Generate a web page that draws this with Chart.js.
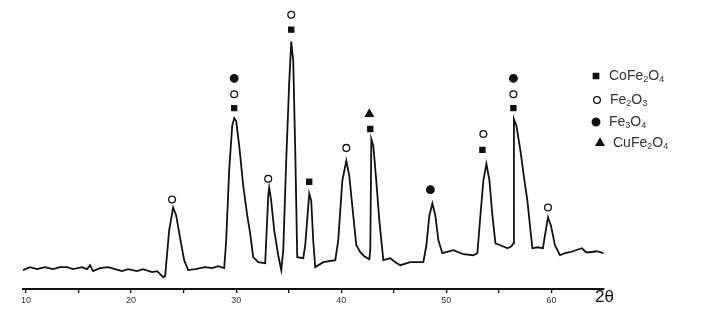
<!DOCTYPE html>
<html>
<head>
<meta charset="utf-8">
<script src="https://cdn.jsdelivr.net/npm/chart.js@4.4.1/dist/chart.umd.min.js"></script>
<style>
  html, body { margin: 0; padding: 0; background: #fff; }
  #wrap { position: relative; width: 708px; height: 320px; }
</style>
</head>
<body>
<div id="wrap"><canvas id="xrd" width="708" height="320"></canvas></div>
<script>
// XRD pattern — 2θ (deg) vs intensity (a.u.), phases marked above the peaks
const TWO_THETA = [9.71, 10.38, 11.05, 11.81, 12.57, 13.24, 13.90, 14.48, 15.33, 15.81, 16.10, 16.38, 17.05, 17.81, 18.48, 19.14, 19.71, 20.57, 21.14, 22.00, 22.48, 23.05, 23.24,
  23.62, 24.00, 24.29, 24.67, 25.05, 25.43, 26.10, 27.05, 27.71, 28.29, 28.86,
  29.05, 29.33, 29.62, 29.81, 30.00, 30.29, 30.67, 31.05, 31.33, 31.62, 32.10, 32.76,
  32.86, 33.05, 33.14, 33.33, 33.62, 34.00, 34.29, 34.48, 34.76, 35.05, 35.24, 35.43, 35.62, 35.81,
  36.38, 36.57, 36.95, 37.14, 37.33, 37.52, 38.29, 39.43, 39.71, 40.10, 40.48, 40.76, 41.14, 41.43,
  41.81, 42.19, 42.67, 42.76, 42.86, 43.05, 43.33, 43.62, 44.00, 44.67, 45.14, 45.62, 46.57, 47.33,
  47.81, 48.10, 48.38, 48.67, 48.95, 49.24, 49.62, 50.67, 51.62, 52.57, 52.95, 53.24, 53.52, 53.81,
  54.10, 54.38, 54.67, 55.14, 55.81, 56.19, 56.38, 56.43, 56.67, 57.05, 57.43, 57.71, 58.00, 58.19,
  58.67, 59.19, 59.38, 59.67, 59.95, 60.33, 60.81, 61.29, 61.76, 62.33, 62.90, 63.29, 63.71, 64.29, 64.95];
const INTENSITY = [19, 22, 20, 22, 20, 22, 22, 20, 22, 20, 24, 18, 21, 22, 20, 18, 20, 18, 20, 17, 18, 12, 13,
  59, 82, 74, 51, 29, 19, 20, 22, 21, 23, 21,
  49, 119, 164, 172, 169, 144, 104, 74, 56, 32, 27, 26,
  49, 94, 102, 89, 59, 34, 19, 39, 129, 209, 249, 229, 139, 32,
  31, 44, 96, 89, 49, 22, 27, 29, 49, 109, 129, 114, 74, 44,
  37, 33, 30, 39, 151, 144, 109, 69, 29, 31, 27, 24, 27, 27,
  27, 44, 74, 86, 74, 49, 36, 39, 35, 34, 36, 74, 109, 126,
  109, 74, 46, 44, 41, 43, 46, 171, 164, 139, 109, 89, 59, 41,
  42, 41, 54, 72, 64, 44, 34, 36, 37, 39, 41, 37, 37, 38, 36];

// phase markers: [2θ, height]
const COFE2O4 = [[29.81, 182], [35.24, 261], [36.95, 108], [42.76, 161], [53.43, 140], [56.38, 182]];
const FE2O3 = [[23.90, 90], [29.81, 196], [33.05, 111], [35.24, 276], [40.48, 142], [53.52, 156], [56.38, 196], [59.67, 82]];
const FE3O4 = [[29.81, 212], [48.48, 100], [56.38, 212]];
const CUFE2O4 = [[42.67, 176]];

const X_TICKS = [10, 15, 20, 25, 30, 35, 40, 45, 50, 55, 60];
const X_LABELS = [10, 20, 30, 40, 50, 60];

const LEGEND = [
  { parts: [["CoFe", 0], ["2", 1], ["O", 0], ["4", 1]], style: "rect", fill: true, r: 3.8, y: 76, x: 596 },
  { parts: [["Fe", 0], ["2", 1], ["O", 0], ["3", 1]], style: "circle", fill: false, r: 3.4, y: 100, x: 597 },
  { parts: [["Fe", 0], ["3", 1], ["O", 0], ["4", 1]], style: "circle", fill: true, r: 3.8, y: 122, x: 596 },
  { parts: [["CuFe", 0], ["2", 1], ["O", 0], ["4", 1]], style: "triangle", fill: true, r: 4.5, y: 143, x: 600 },
];

const pts = (arr) => arr.map(([x, y]) => ({ x, y }));
const marker = (label, data, style, fill, r) => ({
  type: "scatter", label, data: pts(data), pointStyle: style, pointRadius: r, pointHoverRadius: r,
  pointBackgroundColor: fill ? "#111" : "#fff", pointBorderColor: "#111", pointBorderWidth: 1.3, showLine: false,
});

const extras = {
  id: "extras",
  afterDraw(chart) {
    const ctx = chart.ctx;
    ctx.save();
    ctx.textBaseline = "middle";
    for (const it of LEGEND) {
      ctx.fillStyle = it.fill ? "#111" : "#fff";
      ctx.strokeStyle = "#111";
      ctx.lineWidth = 1.3;
      Chart.helpers.drawPoint(ctx, { pointStyle: it.style, radius: it.r, borderWidth: 1.3 }, it.x, it.y);
      ctx.fillStyle = "#333";
      let x = it.x + 13;
      for (const [t, sub] of it.parts) {
        ctx.font = sub ? "9px 'Liberation Sans'" : "14px 'Liberation Sans'";
        ctx.fillText(t, x, it.y + (sub ? 4 : 0));
        x += ctx.measureText(t).width;
      }
    }
    ctx.font = "17px 'Liberation Sans'";
    ctx.fillStyle = "#111";
    ctx.fillText("2θ", 595, 297);
    ctx.restore();
  },
};

new Chart(document.getElementById("xrd"), {
  type: "line",
  data: {
    datasets: [
      { label: "XRD", data: TWO_THETA.map((x, i) => ({ x, y: INTENSITY[i] })), borderColor: "#111", borderWidth: 1.8,
        pointRadius: 0, tension: 0, fill: false },
      marker("CoFe2O4", COFE2O4, "rect", true, 3.6),
      marker("Fe2O3", FE2O3, "circle", false, 3.4),
      marker("Fe3O4", FE3O4, "circle", true, 3.8),
      marker("CuFe2O4", CUFE2O4, "triangle", true, 4.5),
    ],
  },
  options: {
    responsive: false, animation: false,
    layout: { padding: { left: 22.85, right: 104, top: 4, bottom: 0 } },
    plugins: { legend: { display: false }, tooltip: { enabled: false } },
    scales: {
      x: {
        type: "linear", min: 9.7, max: 65,
        afterBuildTicks: (s) => { s.ticks = X_TICKS.map((v) => ({ value: v })); },
        afterFit: (s) => { s.height = 31; },
        border: { display: true, color: "#111", width: 2 },
        grid: { drawOnChartArea: false, drawTicks: true, tickLength: 4, color: "#111", lineWidth: 1.3 },
        ticks: { padding: 2, autoSkip: false, maxRotation: 0, color: "#333", font: { family: "'Liberation Sans'", size: 9 },
          callback: (v) => (X_LABELS.includes(v) ? String(v) : "") },
      },
      y: { display: false, min: 0, max: 285 },
    },
  },
  plugins: [extras],
});
</script>
</body>
</html>
